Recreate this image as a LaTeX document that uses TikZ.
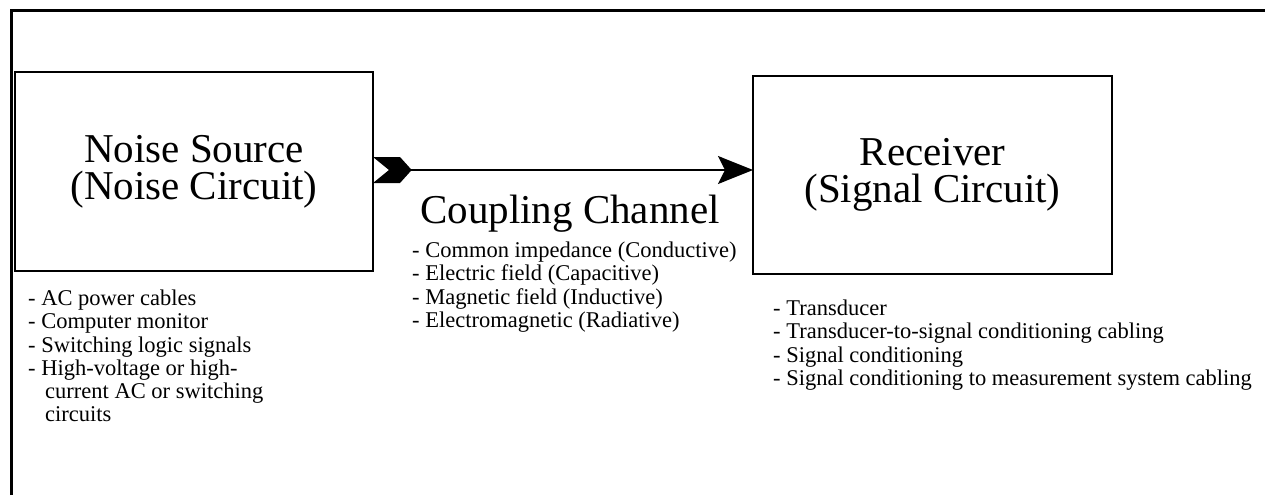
\documentclass[tikz,border=0pt]{standalone}
\usepackage{fontspec}
\setmainfont{Liberation Serif}
\usetikzlibrary{arrows.meta}

\begin{document}
\begin{tikzpicture}[
    x=1pt, y=-1pt,
    block/.style={draw, line width=2pt, align=center, inner sep=0pt, outer sep=0pt, font=\fontsize{41}{37.3}\selectfont},
    list/.style={align=left, inner sep=0pt, anchor=north west, font=\fontsize{22.5}{23.3}\selectfont},
    conn/.style={line width=1.5pt, -{Stealth[length=35pt, width=28pt, inset=7pt]}}
]
\useasboundingbox (0,0) rectangle (1265,495);

% Frame
\draw[line width=3pt] (11,495) -- (11,11) -- (1265,11);

% Blocks
\node[block, minimum width=358pt, minimum height=199pt] (src) at (194,171.5) {Noise Source\\(Noise Circuit)};
\node[block, minimum width=359pt, minimum height=198pt] (rcv) at (932.5,175) {Receiver\\(Signal Circuit)};

% Coupling path with notched tail
\coordinate (tail) at ([yshift=1.5pt]src.east);
\fill (tail) ++(0,-13) -- ++(27,0) -- ++(11.7,13) -- ++(-11.7,13) -- ++(-27,0) -- ++(16,-13) -- cycle;
\draw[conn] ([xshift=38pt]tail) -- (tail -| rcv.west);

\node[font=\fontsize{41}{37.3}\selectfont, anchor=base] (chan) at (570,223) {Coupling Channel};

% Lists
\node[list] (srclist) at (28,289.6) {- AC power cables\\- Computer monitor\\- Switching logic signals\\- High-voltage or high-\\\hspace*{17pt}current AC or switching\\\hspace*{17pt}circuits};
\node[list] (chanlist) at (412,241.6) {- Common impedance (Conductive)\\- Electric field (Capacitive)\\- Magnetic field (Inductive)\\- Electromagnetic (Radiative)};
\node[list] (rcvlist) at (773,299.6) {- Transducer\\- Transducer-to-signal conditioning cabling\\- Signal conditioning\\- Signal conditioning to measurement system cabling};

\end{tikzpicture}
\end{document}
